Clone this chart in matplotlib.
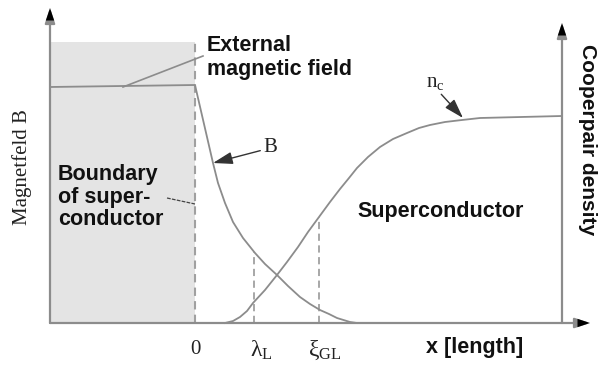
import matplotlib
matplotlib.use("Agg")
import matplotlib.pyplot as plt

plt.rcParams['mathtext.fontset'] = 'custom'
plt.rcParams['mathtext.rm'] = 'Liberation Serif'
plt.rcParams['mathtext.it'] = 'Liberation Serif:italic'

# x measured from the boundary of the superconductor (arbitrary units)
b_x = [-145, 0, 18, 23, 30, 38, 48, 60, 70, 82, 93, 105, 115, 125, 134, 142, 155, 162]
b_y = [236, 238, 160, 140, 120, 101, 85, 70, 59, 48, 37, 26, 19, 13, 9, 5, 1, 0]

nc_x = [30, 38, 45, 52, 58, 70, 82, 92, 103, 113, 124, 135, 145, 154, 162, 173,
        185, 198, 212, 224, 235, 250, 267, 285, 367]
nc_y = [0, 2, 6, 12, 20, 33, 48, 61, 76, 91, 106, 121, 134, 145, 155, 166,
        176, 184, 190, 195, 198, 201, 203, 205, 207]

boundary_x = 0
lambda_l = 59
lambda_top = 71
xi_gl = 124
xi_top = 106
shade_left = -145
shade_top = 281

tick_pos = [boundary_x, lambda_l, xi_gl]
tick_labels = ['0', r'$\mathrm{λ}_{\mathrm{L}}$', r'$\mathrm{ξ}_{\mathrm{GL}}$']

sans = dict(family='Liberation Sans', weight='bold', fontsize=15.5, color='#111111')
serif = dict(family='Liberation Serif', fontsize=15, color='#222222')
gray = '#8c8c8c'

fig = plt.figure(figsize=(6.01, 3.67), dpi=100)
ax = fig.add_axes([0, 0, 1, 1])
ax.set_xlim(-195, 406)
ax.set_ylim(-44, 323)
ax.axis('off')

# shaded normal-conducting region
ax.fill_between([shade_left, boundary_x], 0, shade_top, color='#e4e4e4', lw=0)

# axes with arrows
head = dict(arrowstyle='-|>,head_length=0.9,head_width=0.3', color=gray, lw=1.6,
            shrinkA=0, shrinkB=0)
for start, end in [((-145, 0), (-145, 315)), ((-145, 0), (395, 0)), ((367, 0), (367, 300))]:
    ax.annotate('', xy=end, xytext=start, arrowprops=head)
    ax.annotate('', xy=end, xytext=(end[0] - (end[0] - start[0]) * 0.03,
                                    end[1] - (end[1] - start[1]) * 0.03),
                arrowprops=dict(arrowstyle='-|>,head_length=0.9,head_width=0.3',
                                color='black', lw=0, shrinkA=0, shrinkB=0))

# dashed guide lines
ax.plot([boundary_x, boundary_x], [0, shade_top], ls=(0, (4, 2.5)), color='#a0a0a0', lw=1.5)
ax.plot([lambda_l, lambda_l], [0, lambda_top], ls=(0, (4, 2.5)), color='#a0a0a0', lw=1.3)
ax.plot([xi_gl, xi_gl], [0, xi_top], ls=(0, (4, 2.5)), color='#a0a0a0', lw=1.3)

# curves
ax.plot(b_x, b_y, color=gray, lw=1.3, solid_joinstyle='round')
ax.plot(nc_x, nc_y, color=gray, lw=1.3, solid_joinstyle='round')

# labels
ax.text(12, 288, 'External\nmagnetic field', ha='left', va='top', linespacing=1.2, **sans)
ax.plot([-72, 8], [236, 267], color=gray, lw=1.2)

ax.text(-137, 126, 'Boundary\nof super-\nconductor', ha='left', va='center',
        linespacing=1.1, **sans)
ax.plot([-28, 0], [125, 119], color='#444444', lw=0.9, ls=(0, (3, 1)))

ax.text(246, 111, 'Superconductor', ha='center', va='center', **sans)
ax.text(280, -25, 'x [length]', ha='center', va='center', **sans)

ax.text(-173, 156, 'Magnetfeld B', rotation=90, ha='center', va='center', **serif)
ax.text(393, 183, 'Cooperpair density', rotation=-90, ha='center', va='center',
        **dict(sans, fontsize=15))

for pos, lab, dx, fs in zip(tick_pos, tick_labels, [0, 7, 6], [15, 17, 17]):
    ax.text(pos + dx, -27, lab, ha='center', va='center', **dict(serif, fontsize=fs))

small_head = dict(arrowstyle='-|>,head_length=0.8,head_width=0.25', color='#333333',
                  lw=1.0, shrinkA=0, shrinkB=0)
ax.annotate('B', xy=(18, 160), xytext=(75, 175), ha='center', va='center',
            arrowprops=dict(small_head, relpos=(0, 0.4)), **serif)
ax.annotate(r'$\mathrm{n}_{\mathrm{c}}$', xy=(268, 205), xytext=(240, 241),
            ha='center', va='center', arrowprops=dict(small_head, relpos=(0.7, 0)),
            **serif)

fig.savefig('out.png', dpi=100)
